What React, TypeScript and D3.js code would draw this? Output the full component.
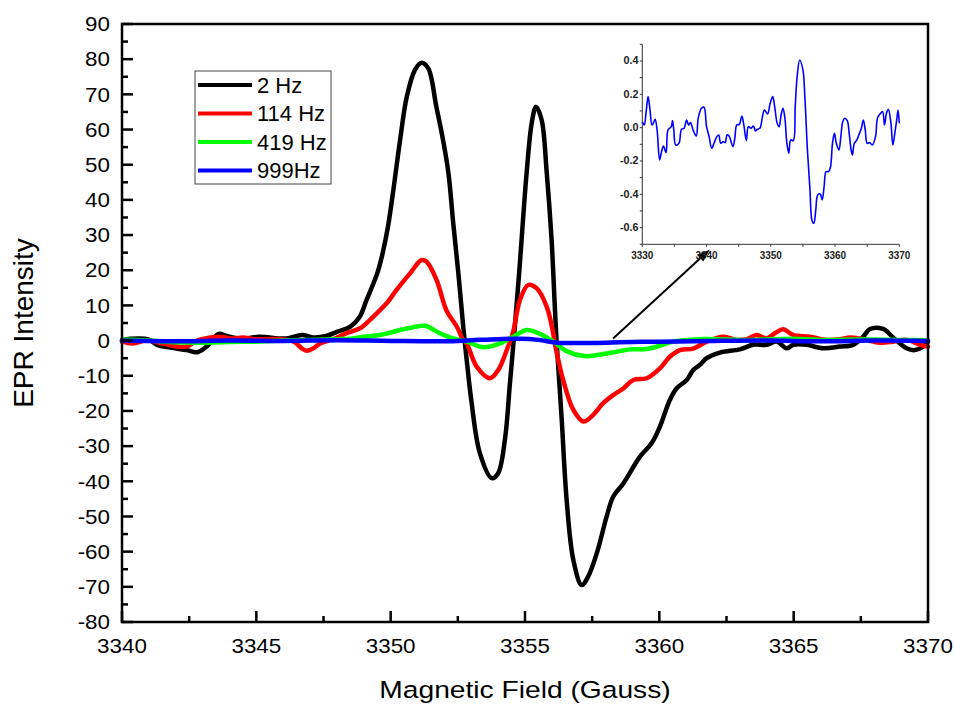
import React from "react";
import * as d3 from "d3";

type P = [number, number];

// ---------- data (Magnetic field in Gauss, EPR intensity) ----------
const series2Hz: P[] = [
  [3340.0, 0], [3340.3, 0.5], [3341.0, 0.3], [3341.3, -1.2], [3341.8, -2.0], [3342.4, -2.7],
  [3342.8, -3.3], [3343.15, -1.7], [3343.6, 1.9], [3343.9, 1.3], [3344.5, 0.5], [3345.1, 1.1],
  [3346.1, 0.6], [3346.7, 1.6], [3347.1, 0.9], [3347.6, 1.3], [3348.0, 2.5], [3348.5, 4.0],
  [3348.85, 6.8], [3349.1, 11.5], [3349.5, 19.1], [3349.7, 24.8], [3349.9, 32.4], [3350.1, 42.8],
  [3350.35, 57], [3350.6, 69.3], [3350.9, 76.9], [3351.15, 79], [3351.4, 77.4], [3351.7, 66.5],
  [3351.95, 57], [3352.15, 47.6], [3352.33, 33.3], [3352.52, 19.1], [3352.7, 4.0], [3352.83, -5.5],
  [3353.0, -16.9], [3353.32, -32], [3353.76, -39.1], [3354.0, -37.7], [3354.25, -28.3],
  [3354.44, -12.1], [3354.6, 2.0], [3354.78, 19], [3355.06, 47.6], [3355.25, 61.8], [3355.41, 66.5],
  [3355.62, 62.7], [3355.81, 47.6], [3355.99, 28.6], [3356.11, 9.6], [3356.18, -0.8],
  [3356.36, -21.6], [3356.55, -45.3], [3356.8, -62.4], [3357.11, -69.5], [3357.35, -67.1],
  [3357.67, -60.5], [3358.04, -50], [3358.28, -44.4], [3358.66, -40.6], [3359.28, -33],
  [3359.71, -29.2], [3360.02, -24.5], [3360.39, -16.9], [3360.64, -13.6], [3361.02, -11.2],
  [3361.26, -8.4], [3361.51, -6.9], [3361.76, -5.0], [3362.26, -3.4], [3363.0, -2.5],
  [3363.49, -1.2], [3363.99, -1.2], [3364.37, -0.3], [3364.74, -2.2], [3364.98, -1.2],
  [3365.48, -1.2], [3366.1, -2.2], [3366.72, -1.7], [3367.22, -1.2], [3367.59, 1.1],
  [3367.84, 3.3], [3368.33, 3.3], [3368.7, 0.9], [3369.2, -2.2], [3369.51, -2.7],
  [3369.82, -1.7], [3370.0, -0.3],
];

const series114Hz: P[] = [
  [3340.0, -0.3], [3340.4, -0.8], [3340.9, 0], [3341.4, -0.6], [3341.9, -1.5], [3342.4, -1.7],
  [3342.8, 0], [3343.3, 0.9], [3343.65, 1.1], [3344.15, 0.6], [3344.5, 0.9], [3344.9, 0.4],
  [3345.4, 0.4], [3345.9, 0.4], [3346.4, -0.3], [3346.69, -2.2], [3346.87, -2.9], [3347.12, -2.2],
  [3347.37, -0.8], [3347.86, 0.4], [3348.36, 2.1], [3348.86, 3.5], [3349.23, 5.9], [3349.5, 7.9],
  [3349.85, 10.6], [3350.22, 14.4], [3350.72, 19.1], [3351.15, 22.9], [3351.34, 22.4],
  [3351.71, 17.2], [3352.08, 8.5], [3352.46, 4.0], [3352.7, 0.2], [3352.83, -0.8], [3353.2, -7.4],
  [3353.7, -10.7], [3354.0, -8.4], [3354.32, -2.7], [3354.56, 2.5], [3354.81, 11.5],
  [3355.12, 15.8], [3355.43, 14.9], [3355.81, 9.6], [3356.05, 2.1], [3356.11, -0.8],
  [3356.24, -5.5], [3356.42, -11.2], [3356.8, -19.7], [3357.17, -23], [3357.54, -21.1],
  [3357.91, -17.8], [3358.28, -15.5], [3358.66, -13.6], [3359.03, -11.2], [3359.53, -10.7],
  [3360.02, -7.9], [3360.39, -4.6], [3360.77, -2.7], [3361.26, -2.3], [3361.76, -0.3],
  [3362.38, 1.1], [3362.88, 0.2], [3363.25, 0.4], [3363.62, 1.6], [3363.99, 0.6], [3364.3, 2.1],
  [3364.61, 3.2], [3364.98, 1.6], [3365.6, 1.1], [3366.23, 0.2], [3366.72, 0.4], [3367.1, 0.9],
  [3367.59, 0.4], [3368.21, -0.6], [3368.7, -0.3], [3369.2, 0.2], [3369.7, -1.2], [3370.0, -1.7],
];

const series419Hz: P[] = [
  [3340.0, 0.3], [3341.0, 0], [3342.0, -0.5], [3343.0, -0.6], [3344.0, -0.4], [3345.0, -0.3],
  [3346.0, 0], [3347.0, 0.2], [3348.0, 0.4], [3348.6, 0.6], [3349.0, 1.1], [3349.6, 1.6],
  [3349.9, 2.1], [3350.35, 3.0], [3350.84, 3.8], [3351.28, 4.2], [3351.83, 2.1], [3352.33, 0.6],
  [3352.83, -0.3], [3353.45, -1.9], [3354.07, -0.8], [3354.56, 1.1], [3355.06, 3.0],
  [3355.5, 2.1], [3356.1, -0.5], [3356.55, -3.0], [3357.2, -4.4], [3357.7, -4.1],
  [3358.25, -3.4], [3358.9, -2.5], [3359.5, -2.4], [3360.0, -1.5], [3360.5, -0.3],
  [3361.5, 0.4], [3362.5, 0.3], [3363.5, 0.2], [3364.9, 0.5], [3366.0, 0.2], [3367.5, 0.3],
  [3369.0, 0.2], [3370.0, 0.1],
];

const series999Hz: P[] = [
  [3340.0, 0], [3342.0, -0.2], [3344.0, 0], [3346.0, -0.1], [3348.0, 0.1], [3350.0, -0.1],
  [3352.0, -0.2], [3353.0, 0.1], [3354.0, 0.4], [3354.8, 0.5], [3355.5, 0.2], [3356.2, -0.6],
  [3357.0, -0.7], [3358.0, -0.6], [3359.0, -0.4], [3360.0, -0.3], [3362.0, -0.1], [3364.0, 0],
  [3366.0, -0.2], [3368.0, 0], [3370.0, -0.1],
];

// inset: 999 Hz spectrum magnified
const inset999Hz: P[] = [
  [3330.0, 0.036], [3330.3, 0.016], [3330.6, 0.096], [3330.9, 0.186], [3331.2, 0.106],
  [3331.5, 0.016], [3331.7, 0.026], [3332.0, 0.05], [3332.3, -0.014], [3332.7, -0.194],
  [3333.0, -0.144], [3333.3, -0.11], [3333.7, -0.15], [3334.0, -0.014], [3334.5, 0.006],
  [3334.7, 0.042], [3334.9, -0.014], [3335.2, -0.104], [3335.7, -0.094], [3336.1, -0.01],
  [3336.5, -0.004], [3336.9, 0.046], [3337.2, 0.016], [3337.5, 0.03], [3337.9, -0.014],
  [3338.4, -0.05], [3338.7, 0.056], [3339.2, 0.116], [3339.6, 0.122], [3340.0, 0.006],
  [3340.4, -0.054], [3340.8, -0.124], [3341.2, -0.09], [3341.6, -0.054], [3341.9, -0.044],
  [3342.2, -0.094], [3342.6, -0.084], [3342.9, -0.09], [3343.2, -0.044], [3343.5, -0.05],
  [3344.1, -0.114], [3344.4, -0.064], [3344.7, 0.016], [3345.1, 0.02], [3345.5, 0.07],
  [3345.8, 0.016], [3346.2, -0.078], [3346.5, 0.006], [3346.9, -0.004], [3347.3, 0.01],
  [3347.6, -0.02], [3347.9, -0.01], [3348.3, -0.004], [3348.7, 0.066], [3349.0, 0.106],
  [3349.5, 0.082], [3349.9, 0.146], [3350.3, 0.186], [3350.6, 0.126], [3351.0, 0.026],
  [3351.3, 0.006], [3351.6, 0.076], [3351.9, 0.116], [3352.2, 0.056], [3352.5, -0.094],
  [3352.8, -0.154], [3353.1, -0.074], [3353.5, -0.078], [3353.8, 0.126], [3354.1, 0.306],
  [3354.5, 0.406], [3355.0, 0.346], [3355.3, 0.186], [3355.7, -0.134], [3356.1, -0.374],
  [3356.4, -0.554], [3356.7, -0.574], [3357.0, -0.494], [3357.3, -0.404], [3357.7, -0.398],
  [3358.0, -0.434], [3358.3, -0.354], [3358.6, -0.264], [3359.0, -0.264], [3359.3, -0.234],
  [3359.6, -0.094], [3359.9, -0.034], [3360.2, -0.094], [3360.6, -0.134], [3360.9, -0.054],
  [3361.2, 0.036], [3361.5, 0.056], [3361.9, 0.042], [3362.2, -0.034], [3362.5, -0.134],
  [3362.7, -0.164], [3363.0, -0.094], [3363.4, -0.074], [3363.7, -0.044], [3364.1, -0.004],
  [3364.4, 0.046], [3364.7, -0.014], [3365.0, -0.094], [3365.4, -0.09], [3365.8, -0.104],
  [3366.3, -0.054], [3366.6, 0.056], [3367.0, 0.082], [3367.4, 0.096], [3367.7, 0.016],
  [3368.0, 0.086], [3368.3, 0.11], [3368.7, 0.026], [3369.0, -0.104], [3369.3, -0.034],
  [3369.6, 0.046], [3369.8, 0.106], [3370.0, 0.026],
];

const legendLabels = ["2 Hz", "114 Hz", "419 Hz", "999Hz"];
const seriesColors = ["#000000", "#ff0000", "#00ff00", "#0000ff"];
const yTicksMain = d3.range(-80, 91, 10);
const yMinorMain = d3.range(-75, 90, 10);
const xTicksMain = [3340, 3345, 3350, 3355, 3360, 3365, 3370];
const xMinorMain = [3342.5, 3347.5, 3352.5, 3357.5, 3362.5, 3367.5];
const xTicksInset = [3330, 3340, 3350, 3360, 3370];
const xMinorInset = [3335, 3345, 3355, 3365];
const yTicksInset = [-0.6, -0.4, -0.2, 0.0, 0.2, 0.4];
const yMinorInset = [-0.7, -0.5, -0.3, -0.1, 0.1, 0.3, 0.5];
// arrow annotation (data coordinates of the main plot)
const arrowFrom: P = [3358.28, 0.6];
const arrowTo: P = [3361.88, 25.9];

const FONT = "Arial, 'Liberation Sans', Helvetica, sans-serif";

export default function App() {
  const W = 955, H = 704;
  const x = d3.scaleLinear().domain([3340, 3370]).range([122, 928]);
  const y = d3.scaleLinear().domain([-80, 90]).range([622, 24]);
  const xi = d3.scaleLinear().domain([3330, 3370]).range([642.3, 899.3]);
  const yi = d3.scaleLinear().domain([-0.7, 0.5]).range([244.3, 44.3]);

  const line = d3
    .line<P>()
    .x((d) => x(d[0]))
    .y((d) => y(d[1]))
    .curve(d3.curveCatmullRom.alpha(0.5));
  const lineInset = d3
    .line<P>()
    .x((d) => xi(d[0]))
    .y((d) => yi(d[1]))
    .curve(d3.curveCatmullRom.alpha(0.5));

  const allSeries = [series2Hz, series114Hz, series419Hz, series999Hz];

  const [x0, y0] = [x(arrowFrom[0]), y(arrowFrom[1])];
  const [x1, y1] = [x(arrowTo[0]), y(arrowTo[1])];
  const ang = Math.atan2(y1 - y0, x1 - x0);
  const hl = 13, hw = 4.5;
  const bx = x1 - hl * Math.cos(ang), by = y1 - hl * Math.sin(ang);
  const head = [
    [x1, y1],
    [bx + hw * Math.sin(ang), by - hw * Math.cos(ang)],
    [bx - hw * Math.sin(ang), by + hw * Math.cos(ang)],
  ]
    .map((p) => p.join(","))
    .join(" ");

  const left = x.range()[0], right = x.range()[1];
  const top = y.range()[1], bottom = y.range()[0];

  return (
    <svg
      width={W}
      height={H}
      style={{ position: "absolute", left: 0, top: 0, display: "block", background: "#fff" }}
      fontFamily={FONT}
    >
      <rect x={0} y={0} width={W} height={H} fill="#fff" />

      {/* series */}
      <g fill="none" strokeWidth={4.5} strokeLinejoin="round" strokeLinecap="round">
        {allSeries.map((s, i) => (
          <path key={i} d={line(s) || ""} stroke={seriesColors[i]} />
        ))}
      </g>

      {/* frame */}
      <rect x={left} y={top} width={right - left} height={bottom - top} fill="none" stroke="#000" strokeWidth={2.5} />

      {/* y ticks (inward) */}
      <g stroke="#000" strokeWidth={2.5}>
        {yTicksMain.map((t) => (
          <line key={"ym" + t} x1={left} x2={left + 11} y1={y(t)} y2={y(t)} />
        ))}
        {yMinorMain.map((t) => (
          <line key={"yn" + t} x1={left} x2={left + 6} y1={y(t)} y2={y(t)} />
        ))}
        {xTicksMain.map((t) => (
          <line key={"xm" + t} x1={x(t)} x2={x(t)} y1={bottom} y2={bottom - 11} />
        ))}
        {xMinorMain.map((t) => (
          <line key={"xn" + t} x1={x(t)} x2={x(t)} y1={bottom} y2={bottom - 6} />
        ))}
      </g>

      {/* tick labels */}
      <g fontSize={20} fill="#000">
        {yTicksMain.map((t) => (
          <text key={"yl" + t} transform={`translate(110,${y(t)}) scale(1.12,1)`} textAnchor="end" dy="0.36em">
            {t}
          </text>
        ))}
        {xTicksMain.map((t) => (
          <text key={"xl" + t} transform={`translate(${x(t)},653) scale(1.12,1)`} textAnchor="middle">
            {t}
          </text>
        ))}
      </g>

      {/* axis titles */}
      <text transform="translate(525,698) scale(1.2,1)" textAnchor="middle" fontSize={23.5} fill="#000">
        Magnetic Field (Gauss)
      </text>
      <text transform="translate(33,323) rotate(-90)" textAnchor="middle" fontSize={28} fill="#000">
        EPR Intensity
      </text>

      {/* legend */}
      <g>
        <rect x={195} y={71} width={136} height={113} fill="#fff" stroke="#444" strokeWidth={1} />
        {legendLabels.map((lab, i) => {
          const ly = 85 + i * 28.5;
          return (
            <g key={lab}>
              <line x1={198} x2={252} y1={ly} y2={ly} stroke={seriesColors[i]} strokeWidth={4} />
              <text x={257} y={ly} dy="0.35em" fontSize={22} fill="#000">
                {lab}
              </text>
            </g>
          );
        })}
      </g>

      {/* arrow */}
      <line x1={x0} y1={y0} x2={bx} y2={by} stroke="#000" strokeWidth={2} />
      <polygon points={head} fill="#000" />

      {/* inset */}
      <g>
        <path d={lineInset(inset999Hz) || ""} fill="none" stroke="#0000ff" strokeWidth={1.6} strokeLinejoin="round" />
        <g stroke="#333" strokeWidth={1}>
          <line x1={xi.range()[0]} x2={xi.range()[0]} y1={yi.range()[0]} y2={yi.range()[1]} />
          <line x1={xi.range()[0]} x2={xi.range()[1]} y1={yi.range()[0]} y2={yi.range()[0]} />
          {yTicksInset.concat(yMinorInset).map((t) => (
            <line key={"iy" + t} x1={xi.range()[0] - 2.5} x2={xi.range()[0]} y1={yi(t)} y2={yi(t)} />
          ))}
          {xTicksInset.concat(xMinorInset).map((t) => (
            <line key={"ix" + t} x1={xi(t)} x2={xi(t)} y1={yi.range()[0]} y2={yi.range()[0] + 2.5} />
          ))}
        </g>
        <g fontSize={10} fontWeight="bold" fill="#222">
          {yTicksInset.map((t) => (
            <text key={"iyl" + t} transform={`translate(638.5,${yi(t)}) scale(1.08,1)`} textAnchor="end" dy="0.35em">
              {t.toFixed(1)}
            </text>
          ))}
          {xTicksInset.map((t) => (
            <text key={"ixl" + t} x={xi(t)} y={259} textAnchor="middle">
              {t}
            </text>
          ))}
        </g>
      </g>
    </svg>
  );
}
